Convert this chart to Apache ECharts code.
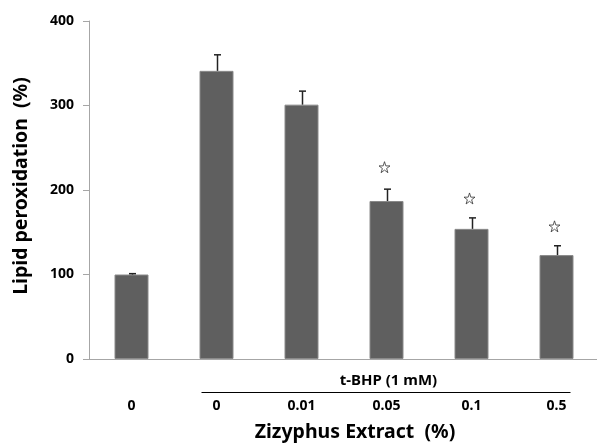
<!DOCTYPE html>
<html><head><meta charset="utf-8">
<script src="https://cdn.jsdelivr.net/npm/echarts@6/dist/echarts.min.js"></script>
<style>html,body{margin:0;padding:0;background:#fff}#c{width:597px;height:445px}</style>
</head><body><div id="c"></div>
<script>
const categories = ['0', '0', '0.01', '0.05', '0.1', '0.5'];
const means = [100, 341, 301, 187, 154, 123];
const errors = [1, 19, 16, 14, 13, 11];
const starValues = [null, null, null, 227, 190, 157];
const yTicks = [0, 100, 200, 300, 400];
const groupLabel = 't-BHP (1 mM)';

const FONT = 'Noto Sans';
const chart = echarts.init(document.getElementById('c'), null, {renderer: 'canvas'});
const starPath = 'path://M50,2 L61.8,37.6 L99,37.6 L69,59.5 L80.4,95 L50,73 L19.6,95 L31,59.5 L1,37.6 L38.2,37.6 Z';

const option = {
  animation: false,
  grid: {left: 89, top: 21, width: 510, bottom: 86, containLabel: false, outerBoundsMode: 'none'},
  xAxis: {
    type: 'category', data: categories,
    axisLine: {lineStyle: {color: '#a6a6a6', width: 1}},
    axisTick: {show: false},
    axisLabel: {margin: 40, fontFamily: FONT, fontWeight: 'bold', fontSize: 14, color: '#000'},
    name: 'Zizyphus Extract  (%)', nameLocation: 'middle', nameGap: 63,
    nameTextStyle: {fontFamily: FONT, fontWeight: 'bold', fontSize: 19.5, color: '#000', padding: [0, 0, 0, 22]}
  },
  yAxis: {
    type: 'value', min: yTicks[0], max: yTicks[yTicks.length - 1], interval: 100,
    splitLine: {show: false},
    axisLine: {show: true, lineStyle: {color: '#a6a6a6', width: 1}},
    axisTick: {show: true, inside: false, length: 6, lineStyle: {color: '#a6a6a6'}},
    axisLabel: {margin: 15, fontFamily: FONT, fontWeight: 'bold', fontSize: 14, color: '#000'},
    name: 'Lipid peroxidation  (%)', nameLocation: 'middle', nameGap: 58,
    nameTextStyle: {fontFamily: FONT, fontWeight: 'bold', fontSize: 19.5, color: '#000', padding: [0, 0, 0, 8]}
  },
  series: [
    {
      type: 'bar', data: means, barWidth: '40%',
      itemStyle: {color: '#5f5f5f', borderColor: '#8a8a8a', borderWidth: 1}
    },
    {
      type: 'custom',
      data: means.map((m, i) => [i, m, m + errors[i]]),
      renderItem: function (params, api) {
        const p0 = api.coord([api.value(0), api.value(1)]);
        const p1 = api.coord([api.value(0), api.value(2)]);
        const x = Math.round(p0[0]) + 0.5;
        return {
          type: 'group',
          children: [
            {type: 'line', shape: {x1: x, y1: p0[1], x2: x, y2: p1[1]}, style: {stroke: '#222', lineWidth: 1.5}},
            {type: 'line', shape: {x1: x - 3.5, y1: p1[1], x2: x + 3.5, y2: p1[1]}, style: {stroke: '#222', lineWidth: 1.5}}
          ]
        };
      },
      z: 3
    },
    {
      type: 'scatter',
      data: starValues.map((v, i) => v == null ? null : [i, v]).filter(d => d),
      symbol: starPath, symbolSize: 11, symbolOffset: [-2, 0],
      itemStyle: {color: '#fff', borderColor: '#333', borderWidth: 1},
      z: 4
    }
  ]
};
chart.setOption(option);

const leftPx = chart.convertToPixel({xAxisIndex: 0}, 1);
const rightPx = chart.convertToPixel({xAxisIndex: 0}, 5);
const zeroY = chart.convertToPixel({yAxisIndex: 0}, 0);
chart.setOption({
  graphic: [
    {type: 'line', shape: {x1: leftPx - 15, y1: zeroY + 33.5, x2: rightPx + 14, y2: zeroY + 33.5},
     style: {stroke: '#000', lineWidth: 1}},
    {type: 'text', x: (leftPx + rightPx) / 2 + 2, y: zeroY + 22,
     style: {text: groupLabel, fontFamily: FONT, fontSize: 15, fontWeight: 'bold', fill: '#000', align: 'center', verticalAlign: 'middle'}}
  ]
});
</script></body></html>
